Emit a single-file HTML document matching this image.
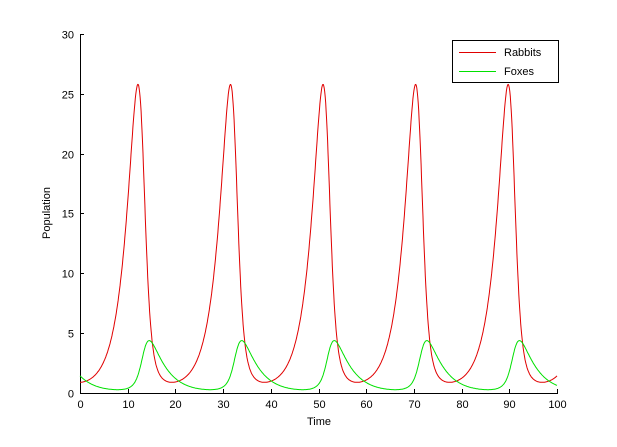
<!DOCTYPE html>
<html><head><style>
body{margin:0;background:#fff;}
svg text{font-family:"Liberation Sans",sans-serif;font-size:11px;fill:#000;}
</style></head><body>
<svg id="s" width="617" height="442" xmlns="http://www.w3.org/2000/svg">
<rect width="617" height="442" fill="#fff"/>
<g stroke="#000" stroke-width="1" fill="none">
<line x1="80.5" y1="34" x2="80.5" y2="393"/>
<line x1="80" y1="393.5" x2="558" y2="393.5"/>
</g>
<g id="ticks" stroke="#000" stroke-width="1"></g>
<g id="labels"></g>
<polyline id="r" fill="none" stroke="#e00000" stroke-width="1"/>
<polyline id="f" fill="none" stroke="#00e000" stroke-width="1"/>
<text x="319" y="425" text-anchor="middle">Time</text>
<text transform="translate(50,213) rotate(-90)" text-anchor="middle">Population</text>
<rect x="452.5" y="40.5" width="106" height="42" fill="#fff" stroke="#000"/>
<line x1="459" y1="52.5" x2="496" y2="52.5" stroke="#e00000"/>
<line x1="459" y1="71.5" x2="496" y2="71.5" stroke="#00e000"/>
<text x="504" y="56">Rabbits</text>
<text x="504" y="75">Foxes</text>
</svg>
<script>
var X=function(t){return 80+t*4.77},Y=function(v){return 393-v*11.97};
var tk=document.getElementById('ticks'),lb=document.getElementById('labels'),ns='http://www.w3.org/2000/svg';
function el(p,n,a,txt){var e=document.createElementNS(ns,n);for(var k in a)e.setAttribute(k,a[k]);if(txt!==undefined)e.textContent=txt;p.appendChild(e);}
for(var i=0;i<=10;i++){var x=Math.round(X(i*10))+0.5;el(tk,'line',{x1:x,y1:393,x2:x,y2:389});el(lb,'text',{x:x,y:408,'text-anchor':'middle'},i*10);}
for(var j=0;j<=6;j++){var y=Math.round(Y(j*5))+0.5;el(tk,'line',{x1:80,y1:y,x2:84,y2:y});el(lb,'text',{x:74,y:y+4,'text-anchor':'end'},j*5);}
var k=0.0432,a=10.6*k,b=7.12*k,c=7.4*k,d=1*k;
function F(r,f){return [a*r-b*r*f,-c*f+d*r*f];}
function step(s,h){var r=s[0],f=s[1];var k1=F(r,f),k2=F(r+h/2*k1[0],f+h/2*k1[1]),k3=F(r+h/2*k2[0],f+h/2*k2[1]),k4=F(r+h*k3[0],f+h*k3[1]);
return [r+h/6*(k1[0]+2*k2[0]+2*k3[0]+k4[0]),f+h/6*(k1[1]+2*k2[1]+2*k3[1]+k4[1])];}
var s=[1,1],h=0.005,pr=[],pf=[];
for(var m=0;m<260;m++)s=step(s,-h);
for(var n=0;n<=20000;n++){var t=n*h;
if(n%20==0){pr.push(X(t).toFixed(1)+','+Y(s[0]).toFixed(1));pf.push(X(t).toFixed(1)+','+Y(s[1]).toFixed(1));}
s=step(s,h);}
document.getElementById('r').setAttribute('points',pr.join(' '));
document.getElementById('f').setAttribute('points',pf.join(' '));
</script>
</body></html>
